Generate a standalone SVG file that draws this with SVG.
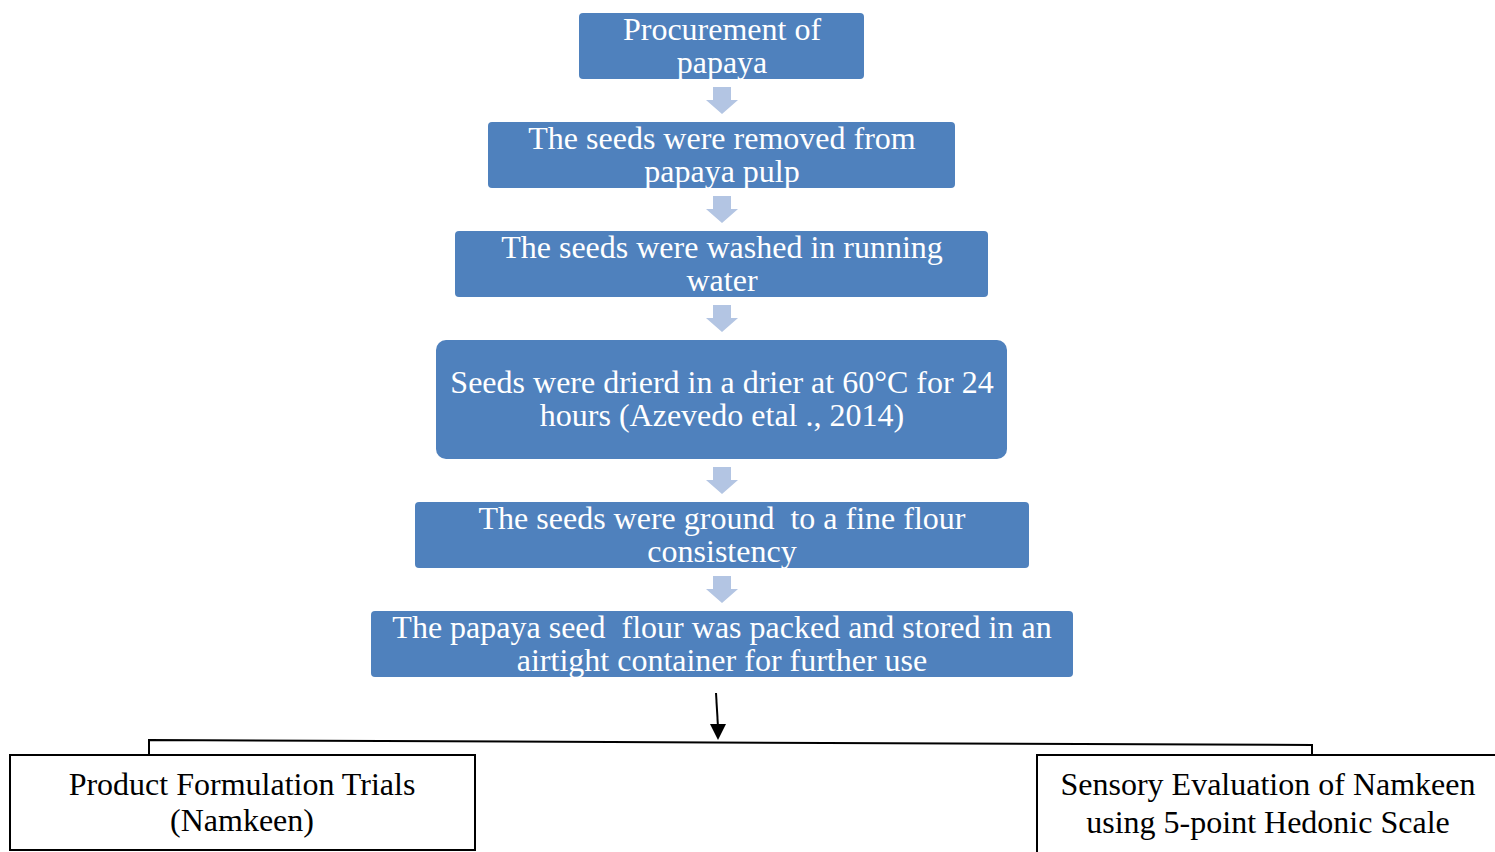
<svg xmlns="http://www.w3.org/2000/svg" width="1495" height="852" viewBox="0 0 1495 852">
<style>
.box{fill:#4F81BD}
.bt{font-family:"Liberation Serif","Times New Roman",serif;font-size:32px;fill:#fff;text-anchor:middle}
.kt{font-family:"Liberation Serif","Times New Roman",serif;font-size:32px;fill:#000;text-anchor:middle}
.blk{fill:#B3C5E3}
.ln{stroke:#000;stroke-width:2;fill:none}
.ob{fill:#fff;stroke:#000;stroke-width:2}
</style>
<defs>
<path id="ba" d="M-9,0 H9 V13 H16 L0,27 L-16,13 H-9 Z"/>
</defs>
<rect width="1495" height="852" fill="#fff"/>
<g id="connectors">
<use href="#ba" class="blk" x="722" y="87"/>
<use href="#ba" class="blk" x="722" y="196"/>
<use href="#ba" class="blk" x="722" y="305"/>
<use href="#ba" class="blk" x="722" y="467"/>
<use href="#ba" class="blk" x="722" y="576"/>
<line class="ln" x1="716" y1="693" x2="718" y2="727"/>
<path d="M710,724 L726,724 L718,740 Z" fill="#000"/>
<path class="ln" d="M149,754 V740 L1312,745 V754"/>
</g>
<g id="n1"><rect class="box" x="579" y="13" width="285" height="66" rx="4"/><text class="bt" x="722" y="40">Procurement of</text><text class="bt" x="722" y="73">papaya</text></g>
<g id="n2"><rect class="box" x="488" y="122" width="467" height="66" rx="4"/><text class="bt" x="722" y="149">The seeds were removed from</text><text class="bt" x="722" y="182">papaya pulp</text></g>
<g id="n3"><rect class="box" x="455" y="231" width="533" height="66" rx="4"/><text class="bt" x="722" y="258">The seeds were washed in running</text><text class="bt" x="722" y="291">water</text></g>
<g id="n4"><rect class="box" x="436" y="340" width="571" height="119" rx="10"/><text class="bt" x="722" y="393">Seeds were drierd in a drier at 60°C for 24</text><text class="bt" x="722" y="426">hours (Azevedo etal ., 2014)</text></g>
<g id="n5"><rect class="box" x="415" y="502" width="614" height="66" rx="4"/><text class="bt" x="722" y="529" xml:space="preserve">The seeds were ground  to a fine flour</text><text class="bt" x="722" y="562">consistency</text></g>
<g id="n6"><rect class="box" x="371" y="611" width="702" height="66" rx="4"/><text class="bt" x="722" y="638" xml:space="preserve">The papaya seed  flour was packed and stored in an</text><text class="bt" x="722" y="671">airtight container for further use</text></g>
<g id="n7"><rect class="ob" x="10" y="755" width="465" height="95"/><text class="kt" x="242" y="795">Product Formulation Trials</text><text class="kt" x="242" y="831">(Namkeen)</text></g>
<g id="n8"><rect class="ob" x="1037" y="755" width="470" height="110"/><text class="kt" x="1268" y="795">Sensory Evaluation of Namkeen</text><text class="kt" x="1268" y="833">using 5-point Hedonic Scale</text></g>
</svg>
